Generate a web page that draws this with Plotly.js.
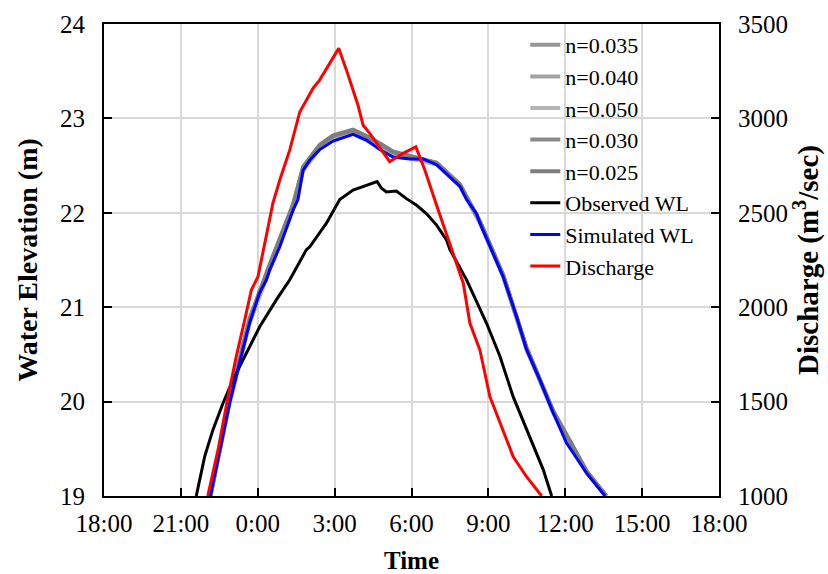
<!DOCTYPE html>
<html>
<head>
<meta charset="utf-8">
<script src="https://cdn.plot.ly/plotly-3.0.1.min.js"></script>
<style>html,body{margin:0;padding:0;background:#fff;}#chart{width:828px;height:574px;}</style>
</head>
<body>
<div id="chart"></div>
<script>
// Time in hours on a continuous clock (24 = 0:00 next day, 42 = 18:00 next day)
const tickVals = [18, 21, 24, 27, 30, 33, 36, 39, 42];
const tickLabels = ["18:00", "21:00", "0:00", "3:00", "6:00", "9:00", "12:00", "15:00", "18:00"];

// Observed water level (m)
const timeObs = [21.60, 21.93, 22.25, 22.64, 23.03, 23.49, 24.07, 24.73, 25.25, 25.90, 26.03, 26.68, 27.20, 27.72, 28.24, 28.66, 28.83, 29.02, 29.41, 29.80, 30.20, 30.59, 30.98, 31.37, 31.50, 32.15, 32.93, 33.45, 33.97, 34.49, 35.14, 35.47];
const obsWL = [19.00, 19.42, 19.70, 19.98, 20.23, 20.48, 20.79, 21.08, 21.29, 21.61, 21.64, 21.89, 22.14, 22.24, 22.29, 22.33, 22.26, 22.22, 22.23, 22.15, 22.08, 21.99, 21.87, 21.71, 21.61, 21.29, 20.83, 20.48, 20.05, 19.70, 19.28, 19.00];

// Simulated water level (m)
const timeSim = [22.15, 22.51, 22.90, 23.29, 23.68, 24.07, 24.34, 24.46, 24.86, 25.38, 25.57, 25.77, 26.04, 26.42, 26.94, 27.72, 28.24, 28.76, 29.28, 29.93, 30.45, 30.98, 31.50, 31.89, 32.15, 32.54, 32.67, 33.06, 33.58, 34.10, 34.49, 35.01, 35.53, 36.05, 36.84, 37.55];
const simWL = [19.00, 19.49, 19.98, 20.41, 20.83, 21.15, 21.29, 21.39, 21.64, 22.03, 22.14, 22.45, 22.56, 22.67, 22.76, 22.83, 22.77, 22.67, 22.59, 22.57, 22.57, 22.51, 22.38, 22.28, 22.14, 21.99, 21.89, 21.64, 21.32, 20.90, 20.55, 20.23, 19.88, 19.56, 19.24, 19.00];

// Manning's n sensitivity runs (m)
const timeN = [22.15, 22.90, 23.68, 24.46, 25.38, 25.77, 26.42, 26.94, 27.72, 28.50, 29.28, 29.93, 30.98, 31.89, 32.67, 33.58, 34.49, 35.53, 36.84, 37.60];
const wlN035 = [19.00, 20.00, 20.85, 21.42, 22.06, 22.46, 22.69, 22.79, 22.86, 22.75, 22.62, 22.59, 22.52, 22.29, 21.90, 21.33, 20.56, 19.89, 19.25, 19.00];
const wlN040 = [19.00, 19.99, 20.84, 21.41, 22.05, 22.46, 22.68, 22.78, 22.85, 22.74, 22.61, 22.58, 22.52, 22.29, 21.90, 21.33, 20.56, 19.89, 19.25, 19.00];
const wlN050 = [19.00, 19.98, 20.83, 21.40, 22.04, 22.45, 22.68, 22.77, 22.84, 22.73, 22.60, 22.58, 22.51, 22.28, 21.89, 21.32, 20.55, 19.88, 19.24, 19.00];
const wlN030 = [19.00, 20.01, 20.87, 21.44, 22.08, 22.48, 22.71, 22.81, 22.87, 22.77, 22.64, 22.60, 22.53, 22.30, 21.91, 21.34, 20.57, 19.90, 19.26, 19.00];
const wlN025 = [19.00, 20.02, 20.88, 21.45, 22.09, 22.49, 22.72, 22.82, 22.88, 22.78, 22.65, 22.60, 22.53, 22.30, 21.91, 21.34, 20.57, 19.90, 19.26, 19.00];

// Discharge (m3/sec)
const timeQ = [22.05, 22.45, 22.84, 23.16, 23.49, 23.75, 24.01, 24.14, 24.27, 24.59, 24.86, 25.25, 25.64, 26.16, 26.42, 27.16, 27.46, 27.72, 27.91, 28.11, 28.37, 29.15, 29.67, 30.17, 30.52, 30.91, 31.50, 32.02, 32.28, 32.67, 33.06, 33.45, 33.97, 34.49, 35.08];
const discharge = [1000, 1244, 1526, 1738, 1932, 2091, 2162, 2250, 2339, 2550, 2674, 2833, 3034, 3160, 3204, 3371, 3257, 3142, 3071, 2965, 2921, 2771, 2815, 2849, 2727, 2568, 2330, 2127, 1915, 1773, 1526, 1385, 1208, 1102, 1000];

const FONT = "Liberation Serif, Times New Roman, serif";

function nTrace(name, y, color) {
  return {x: timeN, y: y, name: name, type: "scatter", mode: "lines",
          line: {color: color, width: 4}};
}

const data = [
  nTrace("n=0.035", wlN035, "#969696"),
  nTrace("n=0.040", wlN040, "#a3a3a3"),
  nTrace("n=0.050", wlN050, "#b4b4b4"),
  nTrace("n=0.030", wlN030, "#8a8a8a"),
  nTrace("n=0.025", wlN025, "#7e7e7e"),
  {x: timeObs, y: obsWL, name: "Observed WL", type: "scatter", mode: "lines",
   line: {color: "#000000", width: 3}},
  {x: timeSim, y: simWL, name: "Simulated WL", type: "scatter", mode: "lines",
   line: {color: "#0000ff", width: 3}},
  {x: timeQ, y: discharge, name: "Discharge", type: "scatter", mode: "lines",
   line: {color: "#ff0000", width: 3}, yaxis: "y2"}
];

const axisCommon = {
  showline: true, linecolor: "#000", linewidth: 2,
  ticks: "inside", ticklen: 8, tickwidth: 2, tickcolor: "#000",
  tickfont: {family: FONT, size: 25, color: "#000"},
  zeroline: false
};

const layout = {
  width: 828, height: 574,
  margin: {l: 104, r: 109, t: 24, b: 78},
  paper_bgcolor: "#fff", plot_bgcolor: "#fff",
  showlegend: true,
  legend: {x: 0.685, y: 1.0, xanchor: "left", yanchor: "top",
           bgcolor: "rgba(0,0,0,0)", font: {family: FONT, size: 22, color: "#000"},
           traceorder: "normal"},
  xaxis: Object.assign({}, axisCommon, {
    range: [18, 42], tickmode: "array", tickvals: tickVals, ticktext: tickLabels,
    showgrid: true, gridcolor: "#d9d9d9", gridwidth: 2, mirror: true,
    ticklabelstandoff: 4,
    title: {text: "Time", font: {family: FONT, size: 25, color: "#000", weight: "bold"}, standoff: 18}
  }),
  yaxis: Object.assign({}, axisCommon, {
    range: [19, 24], dtick: 1, tick0: 19,
    showgrid: true, gridcolor: "#d9d9d9", gridwidth: 2, mirror: true,
    ticklabelstandoff: 12,
    title: {text: "Water Elevation (m)", font: {family: FONT, size: 28, color: "#000", weight: "bold"}, standoff: 14}
  }),
  yaxis2: Object.assign({}, axisCommon, {
    range: [1000, 3500], dtick: 500, tick0: 1000,
    overlaying: "y", side: "right", showgrid: false,
    ticklabelstandoff: 12,
    title: {text: "Discharge (m<sup>3</sup>/sec)", font: {family: FONT, size: 29, color: "#000", weight: "bold"}, standoff: 0}
  })
};

Plotly.newPlot("chart", data, layout, {displayModeBar: false, staticPlot: true});
</script>
</body>
</html>
